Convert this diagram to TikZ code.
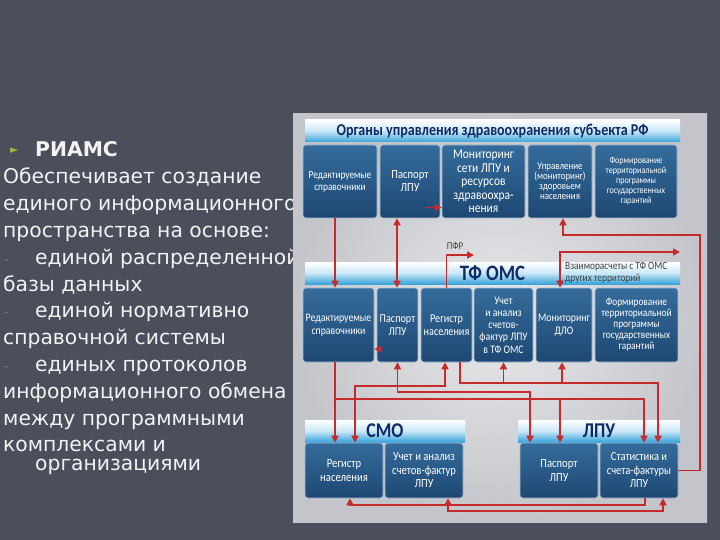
\documentclass[tikz,border=0pt]{standalone}
\usepackage{fontspec}
\setmainfont{DejaVu Sans}
\newfontfamily\diafont[FakeStretch=0.85]{Carlito}
\usetikzlibrary{arrows.meta, positioning, calc}
\definecolor{slidebg}{HTML}{4B4E5B}
\definecolor{slidetext}{HTML}{F3F3F3}
\definecolor{bulletgreen}{HTML}{9BB83C}
\definecolor{panelin}{HTML}{E9E9EB}
\definecolor{panelout}{HTML}{C3C5CA}
\definecolor{boxtop}{HTML}{356C9C}
\definecolor{boxbot}{HTML}{1E4872}
\definecolor{boxedge}{HTML}{A3BDD5}
\definecolor{barblue}{HTML}{3AA3DA}
\definecolor{barlight}{HTML}{C9E8F7}
\definecolor{navy}{HTML}{0F2A66}
\definecolor{linkred}{HTML}{C62A2A}
\definecolor{notegray}{HTML}{3E403C}
\tikzstyle{slideline} = [anchor=base west, inner sep=0pt, text=slidetext,
                         font=\fontsize{20.3}{22}\selectfont]
\tikzstyle{box} = [rectangle, rounded corners=3pt, draw=boxedge, line width=0.6pt,
                   top color=boxtop, bottom color=boxbot, text=white, align=center,
                   inner sep=1pt, font=\diafont\fontsize{10}{10.5}\selectfont]
\tikzstyle{bar} = [rectangle, top color=white, bottom color=barblue, middle color=barlight,
                   text=navy, inner sep=0pt, minimum height=22]
\tikzstyle{arrow} = [-{Triangle[length=7pt, width=7pt]}, line width=1.7pt, draw=linkred]
\tikzstyle{dblarrow} = [{Triangle[length=7pt, width=7pt]}-{Triangle[length=7pt, width=7pt]},
                        line width=1.7pt, draw=linkred]

\begin{document}
\begin{tikzpicture}[x=1pt, y=-1pt]
    \useasboundingbox (0,0) rectangle (720,540);
    \fill[slidebg] (0,0) rectangle (720,540);

    % slide text
    \node[anchor=base west, inner sep=0pt, text=bulletgreen, font=\fontsize{11}{12}\selectfont] (bullet) at (10,154) {►};
    \node[slideline] (riams) at (35,157) {\textbf{РИАМС}};
    \node[slideline] (txt1) at (3,184) {Обеспечивает создание};
    \node[slideline] (txt2) at (3,211) {единого информационного};
    \node[slideline] (txt3) at (3,237) {пространства на основе:};
    \node[slideline, text=gray, font=\fontsize{12}{14}\selectfont] (dash1) at (4,263) {-};
    \node[slideline] (txt4) at (35,264) {единой распределенной};
    \node[slideline] (txt5) at (3,291) {базы данных};
    \node[slideline, text=gray, font=\fontsize{12}{14}\selectfont] (dash2) at (4,316) {-};
    \node[slideline] (txt6) at (35,317) {единой нормативно};
    \node[slideline] (txt7) at (3,344) {справочной системы};
    \node[slideline, text=gray, font=\fontsize{12}{14}\selectfont] (dash3) at (4,370) {-};
    \node[slideline] (txt8) at (35,371) {единых протоколов};
    \node[slideline] (txt9) at (3,398) {информационного обмена};
    \node[slideline] (txt10) at (3,425) {между программными};
    \node[slideline] (txt11) at (3,451) {комплексами и};
    \node[slideline] (txt12) at (35,470) {организациями};

    % picture panel
    \fill[inner color=panelin, outer color=panelout] (293,114) rectangle (707,522);

    \node[bar, minimum width=375, font=\diafont\bfseries\fontsize{16.5}{17}\selectfont] (organy) at (492.5,131) {Органы управления здравоохранения субъекта РФ};
    \node[box, minimum width=74, minimum height=73, font=\diafont\fontsize{11}{12}\selectfont] (t1) at (340,181.5) {Редактируемые\\справочники};
    \node[box, minimum width=60, minimum height=73, font=\diafont\fontsize{12.5}{13}\selectfont] (t2) at (410,181.5) {Паспорт\\ЛПУ};
    \node[box, minimum width=83, minimum height=73, font=\diafont\fontsize{13.5}{13.5}\selectfont] (t3) at (483.5,181.5) {Мониторинг\\сети ЛПУ и\\ресурсов\\здравоохра-\\нения};
    \node[box, minimum width=64, minimum height=73, font=\diafont\fontsize{10.5}{10}\selectfont] (t4) at (560,181.5) {Управление\\(мониторинг)\\здоровьем\\населения};
    \node[box, minimum width=82, minimum height=73, font=\diafont\fontsize{9.5}{10}\selectfont] (t5) at (636,181.5) {Формирование\\территориальной\\программы\\государственных\\гарантий};

    \node[bar, minimum width=375, font=\diafont\bfseries\fontsize{22}{22}\selectfont] (tfoms) at (492.5,273) {ТФ ОМС};
    \node[box, minimum width=71, minimum height=74, font=\diafont\fontsize{11.5}{12.5}\selectfont] (m1) at (338.5,325) {Редактируемые\\справочники};
    \node[box, minimum width=41, minimum height=74, font=\diafont\fontsize{12}{13}\selectfont] (m2) at (397.5,325) {Паспорт\\ЛПУ};
    \node[box, minimum width=51, minimum height=74, font=\diafont\fontsize{12}{13}\selectfont] (m3) at (446.5,325) {Регистр\\населения};
    \node[box, minimum width=59, minimum height=74, font=\diafont\fontsize{11.5}{12.3}\selectfont] (m4) at (503.5,325) {Учет\\и анализ\\счетов-\\фактур ЛПУ\\в ТФ ОМС};
    \node[box, minimum width=56, minimum height=74, font=\diafont\fontsize{11.5}{13}\selectfont] (m5) at (564,325) {Мониторинг\\ДЛО};
    \node[box, minimum width=83, minimum height=74, font=\diafont\fontsize{11}{11}\selectfont] (m6) at (636.5,325) {Формирование\\территориальной\\программы\\государственных\\гарантий};

    \node[bar, minimum width=160, font=\diafont\bfseries\fontsize{21}{21}\selectfont] (smo) at (385,431) {СМО};
    \node[box, minimum width=78, minimum height=55, font=\diafont\fontsize{12.5}{13.5}\selectfont] (s1) at (344,470.5) {Регистр\\населения};
    \node[box, minimum width=78, minimum height=55, font=\diafont\fontsize{12.5}{13.5}\selectfont] (s2) at (424,470.5) {Учет и анализ\\счетов-фактур\\ЛПУ};

    \node[bar, minimum width=162, font=\diafont\bfseries\fontsize{21}{21}\selectfont] (lpu) at (599,431) {ЛПУ};
    \node[box, minimum width=78, minimum height=55, font=\diafont\fontsize{12.5}{13.5}\selectfont] (l1) at (559,470.5) {Паспорт\\ЛПУ};
    \node[box, minimum width=78, minimum height=55, font=\diafont\fontsize{12.3}{13.5}\selectfont] (l2) at (639,470.5) {Статистика и\\счета-фактуры\\ЛПУ};

    \coordinate (pfr) at (474,255);
    \coordinate (vzaim) at (680,252);
    \node[text=notegray, inner sep=0pt, font=\diafont\fontsize{10.5}{10}\selectfont] (pfrlabel) at (455,246) {ПФР};
    \node[anchor=west, align=left, text=notegray, inner sep=0pt, font=\diafont\fontsize{11}{12}\selectfont] (vzaimlabel) at (565,273) {Взаиморасчеты с ТФ ОМС\\других территорий};

    % upper links
    \draw[arrow] (335,0 |- t1.south) -- (335,0 |- m1.north);
    \draw[dblarrow] (397,0 |- t2.south) -- (397,0 |- m2.north);
    \draw[arrow] ([shift={(-15,26)}]t2.east) -- ([shift={(0,26)}]t3.west);
    \draw[arrow] (m3.north) |- (pfr);
    \draw[arrow] (l2.east) -| (700,235) -| ([xshift=3pt]t4.south);
    \draw[dblarrow] ([xshift=-4pt]m5.north) |- (vzaim);

    % lower links
    \draw[arrow] ([shift={(5,24)}]m2.west) -- ([shift={(0,24)}]m1.east);
    \draw[arrow] (335,0 |- m1.south) -- (335,0 |- s1.north);
    \draw[arrow] (335,399) -| (644,0 |- l2.north);
    \draw[arrow] (560,399) -- (560,0 |- l1.north);
    \draw[dblarrow] (m2.south) |- (530,392) -- (530,0 |- l1.north);
    \draw[dblarrow] ([xshift=-1.5pt]m3.south) |- (355,386) -- (355,0 |- s1.north);
    \draw[arrow] (460,0 |- m3.south) |- (658,383) -- (658,0 |- l2.north);
    \draw[arrow] (m4.south |- 0,383) -- (m4.south);
    \draw[arrow] ([xshift=-2pt]m5.south |- 0,383) -- ([xshift=-2pt]m5.south);
    \draw[arrow] (645,0 |- l2.south) |- (350,505) -- (350,0 |- s1.south);
    \draw[dblarrow] (448,0 |- s2.south) |- (663,511) -- (663,0 |- l2.south);
\end{tikzpicture}
\end{document}
